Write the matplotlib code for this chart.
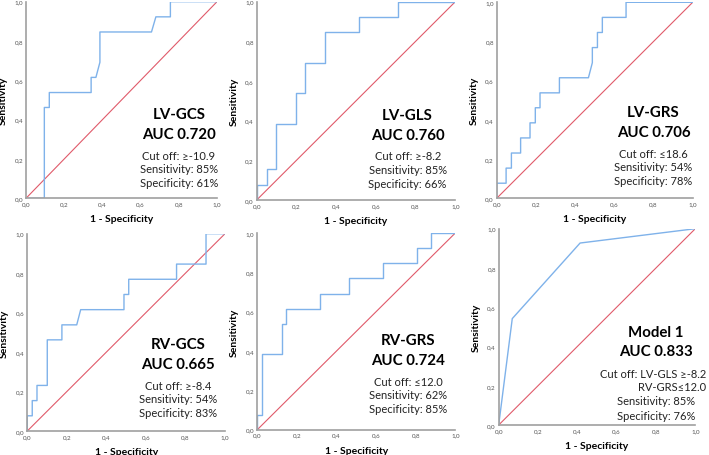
"""ROC curves for strain parameters: six panels, 2 x 3."""
import matplotlib
matplotlib.use("Agg")
import matplotlib.pyplot as plt

# ROC points (1 - specificity, sensitivity)
lv_gcs_fpr = [0, 0.096, 0.096, 0.122, 0.122, 0.341, 0.341, 0.366, 0.387, 0.387, 0.657, 0.68, 0.756, 0.756, 1.0]
lv_gcs_tpr = [0, 0, 0.462, 0.462, 0.538, 0.538, 0.615, 0.615, 0.692, 0.846, 0.846, 0.923, 0.923, 1.0, 1.0]

lv_gls_fpr = [0, 0, 0.05, 0.05, 0.099, 0.099, 0.198, 0.198, 0.245, 0.245, 0.342, 0.342, 0.513, 0.513, 0.71, 0.71, 1.0]
lv_gls_tpr = [0, 0.077, 0.077, 0.154, 0.154, 0.385, 0.385, 0.538, 0.538, 0.692, 0.692, 0.846, 0.846, 0.923, 0.923, 1.0, 1.0]

lv_grs_fpr = [0, 0, 0.048, 0.048, 0.075, 0.075, 0.122, 0.122, 0.17, 0.17, 0.197, 0.197, 0.221, 0.221, 0.32, 0.32,
              0.468, 0.488, 0.488, 0.514, 0.514, 0.539, 0.539, 0.66, 0.66, 1.0]
lv_grs_tpr = [0, 0.077, 0.077, 0.154, 0.154, 0.231, 0.231, 0.308, 0.308, 0.385, 0.385, 0.462, 0.462, 0.538, 0.538, 0.615,
              0.615, 0.692, 0.769, 0.769, 0.846, 0.846, 0.923, 0.923, 1.0, 1.0]

rv_gcs_fpr = [0, 0, 0.025, 0.025, 0.049, 0.049, 0.101, 0.101, 0.175, 0.175, 0.25, 0.27, 0.489, 0.489, 0.513, 0.513,
              0.755, 0.755, 0.904, 0.904, 1.0]
rv_gcs_tpr = [0, 0.077, 0.077, 0.154, 0.154, 0.231, 0.231, 0.462, 0.462, 0.538, 0.538, 0.615, 0.615, 0.692, 0.692, 0.769,
              0.769, 0.846, 0.846, 1.0, 1.0]

rv_grs_fpr = [0, 0, 0.025, 0.025, 0.123, 0.123, 0.145, 0.145, 0.317, 0.317, 0.465, 0.465, 0.635, 0.635, 0.805, 0.805,
              0.879, 0.879, 1.0]
rv_grs_tpr = [0, 0.077, 0.077, 0.385, 0.385, 0.538, 0.538, 0.615, 0.615, 0.692, 0.692, 0.769, 0.769, 0.846, 0.846, 0.923,
              0.923, 1.0, 1.0]

model1_fpr = [0, 0.069, 0.414, 1.0]
model1_tpr = [0, 0.542, 0.927, 1.0]

names = ["LV-GCS", "LV-GLS", "LV-GRS", "RV-GCS", "RV-GRS", "Model 1"]
aucs = ["0.720", "0.760", "0.706", "0.665", "0.724", "0.833"]
cutoffs = ["≥-10.9", "≥-8.2", "≤18.6", "≥-8.4", "≤12.0", "LV-GLS ≥-8.2"]
sens = ["85%", "85%", "54%", "54%", "62%", "85%"]
spec = ["61%", "66%", "78%", "83%", "85%", "76%"]
curves = [(lv_gcs_fpr, lv_gcs_tpr), (lv_gls_fpr, lv_gls_tpr), (lv_grs_fpr, lv_grs_tpr),
          (rv_gcs_fpr, rv_gcs_tpr), (rv_grs_fpr, rv_grs_tpr), (model1_fpr, model1_tpr)]
ticks = [0, 0.2, 0.4, 0.6, 0.8, 1.0]
tick_labels = ["0,0", "0,2", "0,4", "0,6", "0,8", "1,0"]

# axes boxes in pixels: left, right, top, bottom
W, H = 709, 456
boxes = [(26, 217, 2.7, 199.3), (256.7, 455.3, 2.7, 201), (496.7, 692.7, 3.3, 199.3),
         (27.3, 225, 234.7, 432), (257.3, 455.3, 234, 430.7), (498.7, 695.3, 229.7, 426)]
# text block anchor (axes fraction): centre x, title y
anchors = [(0.80, 0.428), (0.76, 0.43), (0.80, 0.44), (0.764, 0.439), (0.763, 0.455), (0.80, 0.475)]

plt.rcParams["font.family"] = ["Lato", "DejaVu Sans"]
BLUE = "#7fb2ea"
RED = "#e05a6a"
GREY = "#a0a0a0"

fig = plt.figure(figsize=(W / 100, H / 100), dpi=100)
for i, (l, r, t, b) in enumerate(boxes):
    ax = fig.add_axes([l / W, (H - b) / H, (r - l) / W, (b - t) / H])
    fpr, tpr = curves[i]
    ax.plot([0, 1], [0, 1], color=RED, lw=0.8)
    ax.plot(fpr, tpr, color=BLUE, lw=1.0)
    ax.set_xlim(0, 1)
    ax.set_ylim(0, 1)
    for s in ("top", "right"):
        ax.spines[s].set_visible(False)
    for s in ("left", "bottom"):
        ax.spines[s].set_color(GREY)
        ax.spines[s].set_linewidth(1.2)
    ax.set_xticks(ticks, tick_labels)
    ax.set_yticks(ticks, tick_labels)
    ax.tick_params(length=0, labelsize=4.5, labelcolor="#555555", pad=2)
    ax.set_xlabel("1 - Specificity", fontsize=7.5, fontweight="bold", labelpad=6)
    ax.set_ylabel("Sensitivity", fontsize=7.5, fontweight="bold", labelpad=5)

    cx, ty = anchors[i]
    hpx = b - t
    bold = dict(ha="center", va="center", fontsize=10.8, fontweight="bold", transform=ax.transAxes)
    norm = dict(ha="center", va="center", fontsize=8, color="#222222", transform=ax.transAxes)
    ax.text(cx, ty, names[i], **bold)
    if i < 5:
        ax.text(cx, ty - 20 / hpx, "AUC " + aucs[i], **bold)
        ax.text(cx, ty - 41 / hpx, "Cut off: " + cutoffs[i], **norm)
        ax.text(cx, ty - 54.5 / hpx, "Sensitivity: " + sens[i], **norm)
        ax.text(cx, ty - 68.5 / hpx, "Specificity: " + spec[i], **norm)
    else:
        ax.text(cx, ty - 19 / hpx, "AUC " + aucs[i], **bold)
        ax.text(1.055, ty - 42 / hpx, "Cut off: " + cutoffs[i], **dict(norm, ha="right"))
        ax.text(1.055, ty - 55 / hpx, "RV-GRS≤12.0", **dict(norm, ha="right"))
        ax.text(cx, ty - 69 / hpx, "Sensitivity: " + sens[i], **norm)
        ax.text(cx, ty - 84 / hpx, "Specificity: " + spec[i], **norm)

fig.savefig("out.png", dpi=100)
